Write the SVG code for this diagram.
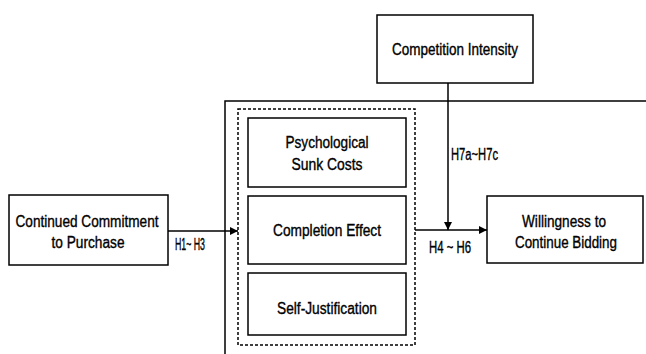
<svg xmlns="http://www.w3.org/2000/svg" width="646" height="354" viewBox="0 0 646 354">
<style>
.box{fill:#fff;stroke:#000;stroke-width:1.5}
.t{font-family:"Liberation Sans",Arial,sans-serif;font-size:16px;fill:#000;stroke:#000;stroke-width:0.35}
.ln{fill:none;stroke:#000;stroke-width:1.5}
</style>
<defs>
<marker id="ah" viewBox="0 0 10 10" refX="10" refY="5" markerWidth="8" markerHeight="8" markerUnits="userSpaceOnUse" orient="auto">
<path d="M0,0 L10,5 L0,10 z" fill="#000"/>
</marker>
</defs>
<rect width="646" height="354" fill="#fff"/>
<g id="frame">
<path class="ln" d="M646,101 H225 V354"/>
<rect x="238" y="109" width="177" height="236" fill="none" stroke="#000" stroke-width="1.5" stroke-dasharray="3,2"/>
</g>
<g id="commitment">
<rect class="box" x="9" y="195" width="159" height="70"/>
<text class="t" x="87" y="227" text-anchor="middle" textLength="143" lengthAdjust="spacingAndGlyphs">Continued Commitment</text>
<text class="t" x="88" y="248" text-anchor="middle" textLength="73" lengthAdjust="spacingAndGlyphs">to Purchase</text>
</g>
<g id="sunk">
<rect class="box" x="248" y="118" width="158" height="69"/>
<text class="t" x="327" y="148" text-anchor="middle" textLength="83" lengthAdjust="spacingAndGlyphs">Psychological</text>
<text class="t" x="327" y="170" text-anchor="middle" textLength="71" lengthAdjust="spacingAndGlyphs">Sunk Costs</text>
</g>
<g id="completion">
<rect class="box" x="248" y="196" width="158" height="68"/>
<text class="t" x="327" y="236" text-anchor="middle" textLength="108" lengthAdjust="spacingAndGlyphs">Completion Effect</text>
</g>
<g id="selfjust">
<rect class="box" x="248" y="273" width="158" height="62"/>
<text class="t" x="327" y="314" text-anchor="middle" textLength="100" lengthAdjust="spacingAndGlyphs">Self-Justification</text>
</g>
<g id="competition">
<rect class="box" x="377" y="15" width="156" height="68"/>
<text class="t" x="455" y="55" text-anchor="middle" textLength="126" lengthAdjust="spacingAndGlyphs">Competition Intensity</text>
</g>
<g id="willingness">
<rect class="box" x="487" y="196" width="156" height="67"/>
<text class="t" x="564" y="227" text-anchor="middle" textLength="84" lengthAdjust="spacingAndGlyphs">Willingness to</text>
<text class="t" x="566" y="248" text-anchor="middle" textLength="102" lengthAdjust="spacingAndGlyphs">Continue Bidding</text>
</g>
<g id="connectors">
<line class="ln" x1="168" y1="231" x2="238" y2="231" marker-end="url(#ah)"/>
<line class="ln" x1="415" y1="230" x2="487" y2="230" marker-end="url(#ah)"/>
<line class="ln" x1="448" y1="83" x2="448" y2="230" marker-end="url(#ah)"/>
<text class="t" x="190" y="250" text-anchor="middle" textLength="30" lengthAdjust="spacingAndGlyphs">H1~ H3</text>
<text class="t" x="451" y="160" textLength="47" lengthAdjust="spacingAndGlyphs">H7a~H7c</text>
<text class="t" x="450" y="253" text-anchor="middle" textLength="42" lengthAdjust="spacingAndGlyphs">H4 ~ H6</text>
</g>
</svg>
